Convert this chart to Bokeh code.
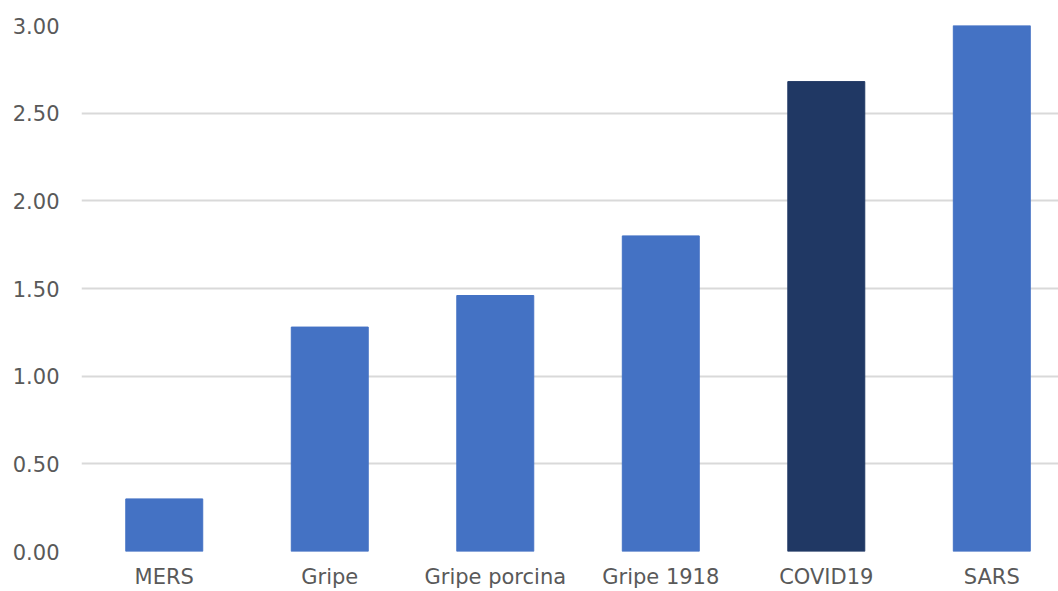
from bokeh.plotting import figure
from bokeh.models import ColumnDataSource, Range1d, FixedTicker, NumeralTickFormatter
from bokeh.embed import file_html
from bokeh.resources import INLINE

# Fatality-style ratio by disease
categories = ["MERS", "Gripe", "Gripe porcina", "Gripe 1918", "COVID19", "SARS"]
values = [0.30, 1.28, 1.46, 1.80, 2.68, 3.00]
colors = ["#4472C4", "#4472C4", "#4472C4", "#4472C4", "#203864", "#4472C4"]
y_ticks = [0.0, 0.5, 1.0, 1.5, 2.0, 2.5, 3.0]

positions = [i + 0.5 for i in range(len(categories))]
source = ColumnDataSource(dict(x=positions, top=values, color=colors, name=categories))

p = figure(
    width=1058, height=591,
    x_range=Range1d(0, 5.903), y_range=Range1d(0, 3.0),
    output_backend="svg", toolbar_location=None,
    min_border_left=81, min_border_right=0, min_border_top=25, min_border_bottom=30,
)
p.outline_line_color = None
p.background_fill_color = "white"
p.border_fill_color = "white"

p.vbar(x="x", top="top", width=0.465, bottom=0, color="color", source=source)

# Y axis: value ticks with two decimals
p.yaxis.ticker = FixedTicker(ticks=y_ticks)
p.yaxis.formatter = NumeralTickFormatter(format="0.00")
p.yaxis.axis_line_color = None
p.yaxis.major_tick_line_color = None
p.yaxis.minor_tick_line_color = None
p.yaxis.major_tick_out = 0
p.yaxis.major_tick_in = 0
p.yaxis.major_label_standoff = 22
p.yaxis.major_label_text_font = "DejaVu Sans"
p.yaxis.major_label_text_font_size = "21px"
p.yaxis.major_label_text_color = "#595959"

# X axis: category names under each bar
p.xaxis.ticker = FixedTicker(ticks=positions)
p.xaxis.major_label_overrides = {pos: name for pos, name in zip(positions, categories)}
p.xaxis.axis_line_color = None
p.xaxis.major_tick_line_color = None
p.xaxis.minor_tick_line_color = None
p.xaxis.major_tick_out = 0
p.xaxis.major_tick_in = 0
p.xaxis.major_label_standoff = 13
p.xaxis.major_label_text_font = "DejaVu Sans"
p.xaxis.major_label_text_font_size = "21px"
p.xaxis.major_label_text_color = "#595959"

p.xgrid.grid_line_color = None
p.ygrid.grid_line_color = "#d9d9d9"
p.ygrid.grid_line_width = 2

open("out.html", "w").write(file_html(p, INLINE))
